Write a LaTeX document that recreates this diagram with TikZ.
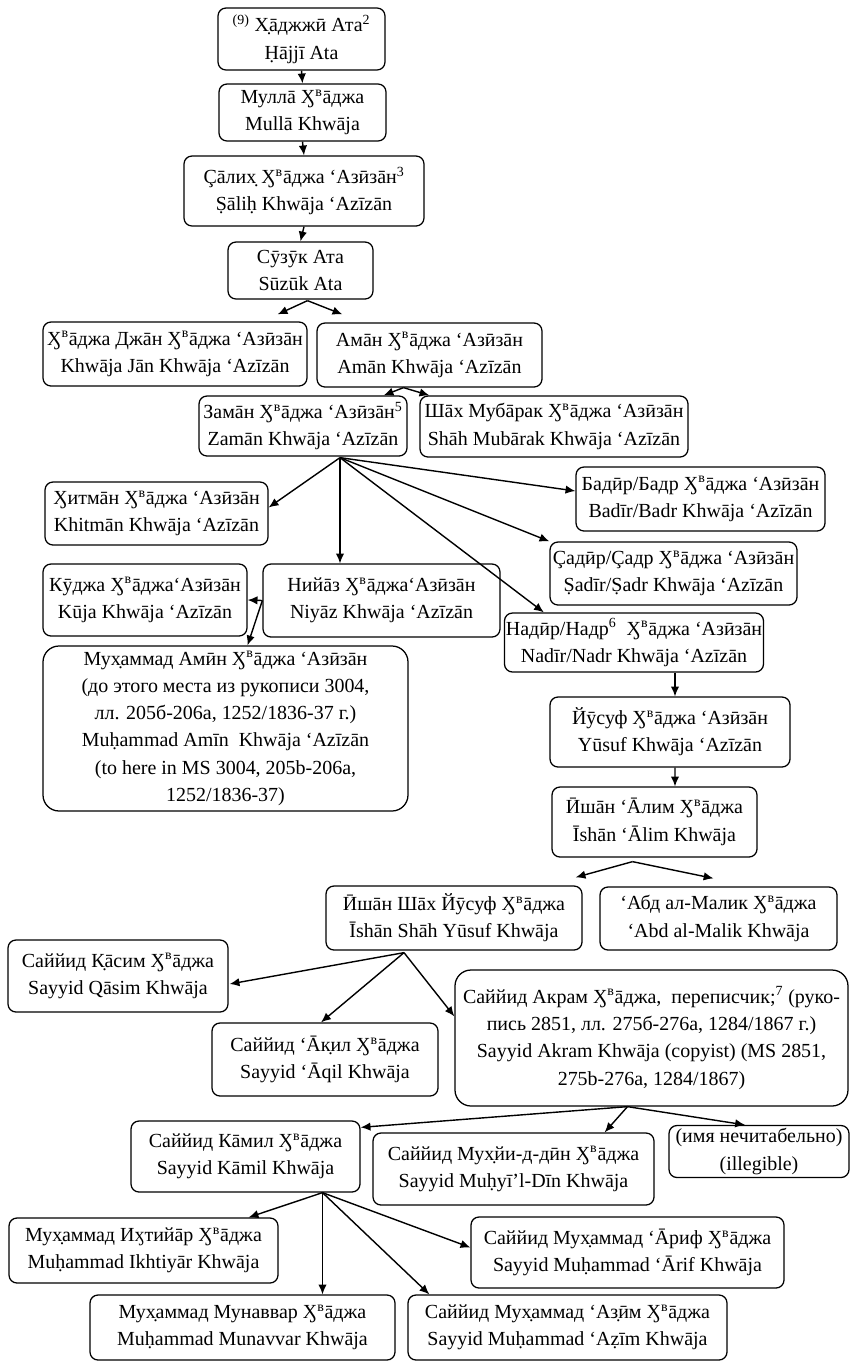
\documentclass[tikz,border=0pt]{standalone}
\usepackage{fontspec}
\setmainfont{Liberation Serif}
\usetikzlibrary{calc, positioning, arrows.meta}
\tikzset{
	% one member of the family
	person/.style={
		draw,
		rounded corners=0.2cm,
		align=center,
		line width=0.9pt,
		inner sep=1pt,
		font=\fontsize{14.2}{19.4}\selectfont
	}, %
	% box with notes on the manuscript
	longperson/.style={
		person,
		rounded corners=0.4cm
	}, %
	% descent
	link/.style={
		-{Latex[length=7pt, width=6pt]},
		line width=1pt
	} %
}
\newcommand{\khw}{Ӽ\textsuperscript{в}}
\newcommand{\px}{0.025cm}

\begin{document}
\begin{tikzpicture}[x=0.025cm, y=-0.025cm]
			\useasboundingbox (0,0) rectangle (852,1362);

			%% Ḥājjī Ata ... Sūzūk Ata
			\node [person, minimum width=167*\px, minimum height=62*\px] (hajji) at (301.5,39)
				{\textsuperscript{(9)} Х̣āджжӣ Ата\textsuperscript{2}\\ Ḥājjī Ata};
			\node [person, minimum width=167*\px, minimum height=57*\px] (mulla) at (302.5,112.5)
				{Муллā \khw āджа\\ Mullā Khwāja};
			\node [person, minimum width=240*\px, minimum height=70*\px] (salih) at (304,191)
				{Çāлих̣ \khw āджа ‘Азӣзāн\textsuperscript{3}\\ Ṣāliḥ Khwāja ‘Azīzān};
			\node [person, minimum width=145*\px, minimum height=57*\px] (suzuk) at (300.5,270.5)
				{Сӯзӯк Ата\\ Sūzūk Ata};
			\draw [link] (hajji.south) -- (mulla.north);
			\draw [link] (mulla.south) -- (salih.north);
			\draw [link] (salih.south) -- (suzuk.north);

			%% Khwāja Jān, Amān
			\node [person, minimum width=264*\px, minimum height=64*\px] (jan) at (175,354)
				{\khw āджа Джāн \khw āджа ‘Азӣзāн\\ Khwāja Jān Khwāja ‘Azīzān};
			\node [person, minimum width=225*\px, minimum height=64*\px] (aman) at (429.5,355)
				{Амāн \khw āджа ‘Азӣзāн\\ Amān Khwāja ‘Azīzān};
			\coordinate (suzukfan) at ($(suzuk.south)+(7,1)$);
			\draw [link] (suzukfan) -- ($(jan.north east)+(-30,-7)$);
			\draw [link] (suzukfan) -- ($(aman.north west)+(26,-8)$);

			%% Zamān, Shāh Mubārak
			\node [person, minimum width=208*\px, minimum height=60*\px] (zaman) at (303,426)
				{Замāн \khw āджа ‘Азӣзāн\textsuperscript{5}\\ Zamān Khwāja ‘Azīzān};
			\node [person, minimum width=268*\px, minimum height=61*\px] (mubarak) at (554,426.5)
				{Шāх Мубāрак \khw āджа ‘Азӣзāн\\ Shāh Mubārak Khwāja ‘Azīzān};
			\coordinate (amanfan) at ($(aman.south)+(-26,0)$);
			\draw [link] (amanfan) -- ($(zaman.north east)+(-24,0)$);
			\draw [link] (amanfan) -- ($(mubarak.north west)+(10,0)$);

			%% sons of Zamān
			\node [person, minimum width=223*\px, minimum height=63*\px] (khitman) at (156.5,513.5)
				{Ӽитмāн \khw āджа ‘Азӣзāн\\ Khitmān Khwāja ‘Azīzān};
			\node [person, minimum width=249*\px, minimum height=64*\px] (badir) at (700.5,499)
				{Бадӣр/Бадр \khw āджа ‘Азӣзāн\\ Badīr/Badr Khwāja ‘Azīzān};
			\node [person, minimum width=247*\px, minimum height=63*\px] (sadir) at (673.5,573.5)
				{Çадӣр/Çадр \khw āджа ‘Азӣзāн\\ Ṣadīr/Ṣadr Khwāja ‘Azīzān};
			\node [person, minimum width=237*\px, minimum height=73*\px] (niyaz) at (381.5,600.5)
				{Нийāз \khw āджа‘Азӣзāн\\ Niyāz Khwāja ‘Azīzān};
			\node [person, minimum width=256*\px, minimum height=59*\px] (nadir) at (634,642.5)
				{Надӣр/Надр\textsuperscript{6}\ \ \khw āджа ‘Азӣзāн\\ Nadīr/Nadr Khwāja ‘Azīzān};
			\coordinate (zamanfan) at ($(zaman.south)+(37,1)$);
			\draw [link] (zamanfan) -- ($(khitman.east)+(0,-6)$);
			\draw [link] (zamanfan) -- (zamanfan |- niyaz.north);
			\draw [link] (zamanfan) -- ($(badir.west)+(0,-8)$);
			\draw [link] (zamanfan) -- (sadir.north west);
			\draw [link] (zamanfan) -- ($(nadir.north west)+(40,0)$);

			%% sons of Niyāz
			\node [person, minimum width=204*\px, minimum height=72*\px] (kuja) at (145,600)
				{Кӯджа \khw āджа‘Азӣзāн\\ Kūja Khwāja ‘Azīzān};
			\node [longperson, minimum width=365*\px, minimum height=165*\px] (amin) at (225.5,728.5)
				{Мух̣аммад Амӣн \khw āджа ‘Азӣзāн\\
				(до этого места из рукописи 3004,\\
				лл. 205б-206а, 1252/1836-37 г.)\\
				Muḥammad Amīn\ \ Khwāja ‘Azīzān\\
				(to here in MS 3004, 205b-206a,\\
				1252/1836-37)};
			\draw [link] (niyaz.west) -- (kuja.east);
			\draw [link] (niyaz.west) -- ($(amin.north)+(22,0)$);

			%% Yūsuf, Īshān ‘Ālim
			\node [person, minimum width=240*\px, minimum height=70*\px] (yusuf) at (670,732)
				{Йӯсуф \khw āджа ‘Азӣзāн\\ Yūsuf Khwāja ‘Azīzān};
			\node [person, minimum width=205*\px, minimum height=70*\px] (alim) at (654.5,822)
				{Ӣшāн ‘Āлим \khw āджа\\ Īshān ‘Ālim Khwāja};
			\draw [link] ($(nadir.south)+(41,0)$) -- ($(yusuf.north)+(5,0)$);
			\draw [link] ($(yusuf.south)+(5,0)$) -- ($(alim.north)+(20.5,0)$);

			%% Īshān Shāh Yūsuf, ‘Abd al-Malik
			\node [person, minimum width=256*\px, minimum height=64*\px] (ishan) at (454,918)
				{Ӣшāн Шāх Йӯсуф \khw āджа\\ Īshān Shāh Yūsuf Khwāja};
			\node [person, minimum width=237*\px, minimum height=63*\px] (malik) at (718.5,918.5)
				{‘Абд ал-Малик \khw āджа\\ ‘Abd al-Malik Khwāja};
			\coordinate (alimfan) at ($(alim.south)+(-22,4)$);
			\draw [link] (alimfan) -- ($(ishan.north east)+(-7,-8)$);
			\draw [link] (alimfan) -- ($(malik.north)+(-5,-8)$);

			%% sons of Īshān Shāh Yūsuf
			\node [person, minimum width=220*\px, minimum height=72*\px] (qasim) at (118,976)
				{Саййид К̣āсим \khw āджа\\ Sayyid Qāsim Khwāja};
			\node [person, minimum width=226*\px, minimum height=73*\px] (aqil) at (325,1059.5)
				{Саййид ‘Āк̣ил \khw āджа\\ Sayyid ‘Āqil Khwāja};
			\node [longperson, minimum width=393*\px, minimum height=136*\px] (akram) at (651.5,1038)
				{Саййид Акрам \khw āджа,\ \ переписчик;\textsuperscript{7} (руко-\\
				пись 2851, лл. 275б-276а, 1284/1867 г.)\\
				Sayyid Akram Khwāja (copyist) (MS 2851,\\
				275b-276a, 1284/1867)};
			\coordinate (ishanfan) at ($(ishan.south)+(-50,2)$);
			\draw [link] (ishanfan) -- ($(qasim.east)+(1,8)$);
			\draw [link] (ishanfan) -- ($(aqil.north)+(-4,0)$);
			\draw [link] (ishanfan) -- ($(akram.north west)+(0,47)$);

			%% sons of Akram
			\node [person, minimum width=229*\px, minimum height=71*\px] (kamil) at (245.5,1156.5)
				{Саййид Кāмил \khw āджа\\ Sayyid Kāmil Khwāja};
			\node [person, minimum width=281*\px, minimum height=72*\px] (muhyi) at (513.5,1169)
				{Саййид Мух̣йи-д-дӣн \khw āджа\\ Sayyid Muḥyī’l-Dīn Khwāja};
			\node [person, minimum width=180*\px, minimum height=52*\px] (illegible) at (759,1151.5)
				{(имя нечитабельно)\\ (illegible)};
			\coordinate (akramfan) at ($(akram.south)+(-24,0)$);
			\draw [link] (akramfan) -- ($(kamil.north east)+(0,7)$);
			\draw [link] (akramfan) -- ($(muhyi.north east)+(-50,0)$);
			\draw [link] (akramfan) -- ($(illegible.north)+(-14,0)$);

			%% sons of Kāmil
			\node [person, minimum width=269*\px, minimum height=65*\px] (ikhtiyar) at (143.5,1250.5)
				{Мух̣аммад Иӽтийāр \khw āджа\\ Muḥammad Ikhtiyār Khwāja};
			\node [person, minimum width=313*\px, minimum height=71*\px] (arif) at (627.5,1252.5)
				{Саййид Мух̣аммад ‘Āриф \khw āджа\\ Sayyid Muḥammad ‘Ārif Khwāja};
			\node [person, minimum width=305*\px, minimum height=65*\px] (munavvar) at (242.5,1327.5)
				{Мух̣аммад Мунаввар \khw āджа\\ Muḥammad Munavvar Khwāja};
			\node [person, minimum width=319*\px, minimum height=65*\px] (azim) at (567.5,1327.5)
				{Саййид Мух̣аммад ‘Аз̣ӣм \khw āджа\\ Sayyid Muḥammad ‘Aẓīm Khwāja};
			\coordinate (kamilfan) at ($(kamil.south)+(77,0)$);
			\draw [link] (kamilfan) -- ($(ikhtiyar.north east)+(-30,0)$);
			\draw [link] (kamilfan) -- (kamilfan |- munavvar.north);
			\draw [link] (kamilfan) -- ($(arif.west)+(0,-5)$);
			\draw [link] (kamilfan) -- ($(azim.north west)+(22,0)$);
		\end{tikzpicture}
\end{document}
